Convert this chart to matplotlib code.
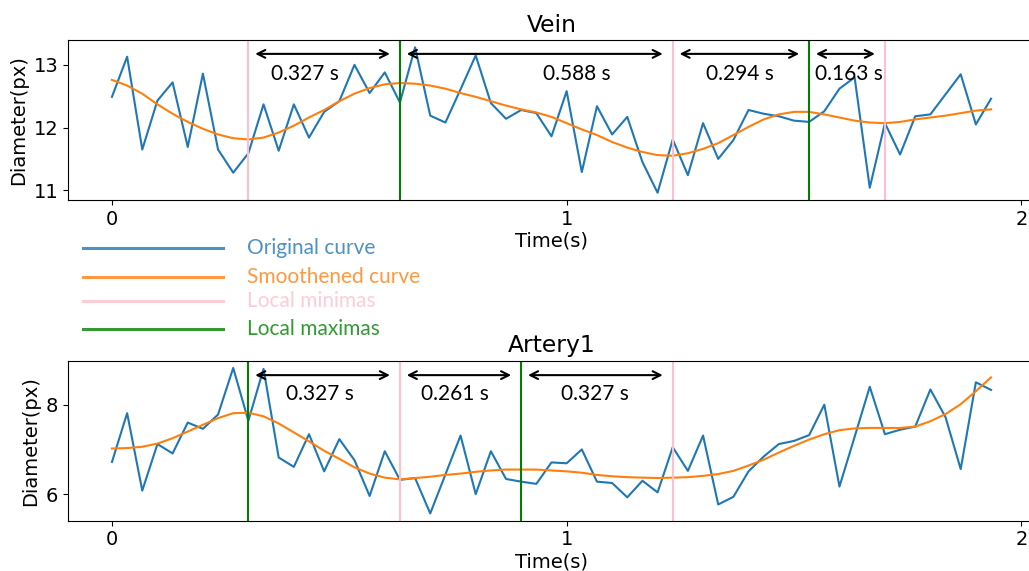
import numpy as np
import matplotlib
matplotlib.use("Agg")
import matplotlib.pyplot as plt
from matplotlib.lines import Line2D

plt.rcParams["font.size"] = 14

FPS = 30

# vein diameter, raw and smoothed (px), one value per frame
vein_raw = [12.49, 13.13, 11.65, 12.43, 12.72, 11.69, 12.86, 11.65, 11.28, 11.59,
            12.37, 11.63, 12.37, 11.84, 12.25, 12.42, 13.00, 12.55, 12.88, 12.40,
            13.28, 12.19, 12.08, 12.61, 13.15, 12.39, 12.14, 12.28, 12.23, 11.86,
            12.58, 11.29, 12.34, 11.89, 12.17, 11.45, 10.96, 11.81, 11.24, 12.07,
            11.50, 11.80, 12.28, 12.22, 12.18, 12.11, 12.09, 12.26, 12.62, 12.80,
            11.04, 12.07, 11.57, 12.18, 12.21, 12.53, 12.85, 12.05, 12.46]
vein_smooth = [12.76, 12.67, 12.54, 12.37, 12.22, 12.09, 11.98, 11.89, 11.83, 11.81,
               11.84, 11.92, 12.03, 12.16, 12.28, 12.42, 12.54, 12.63, 12.69, 12.71,
               12.70, 12.67, 12.62, 12.55, 12.49, 12.42, 12.35, 12.29, 12.24, 12.17,
               12.07, 11.97, 11.88, 11.77, 11.68, 11.61, 11.56, 11.55, 11.59, 11.66,
               11.75, 11.88, 12.01, 12.13, 12.21, 12.25, 12.25, 12.21, 12.16, 12.11,
               12.08, 12.07, 12.09, 12.13, 12.16, 12.19, 12.23, 12.27, 12.29]

# artery1 diameter, raw and smoothed (px)
artery_raw = [6.72, 7.81, 6.08, 7.12, 6.91, 7.60, 7.46, 7.78, 8.82, 7.64,
              8.80, 6.82, 6.61, 7.34, 6.51, 7.23, 6.76, 5.96, 6.96, 6.32,
              6.36, 5.57, 6.44, 7.31, 6.00, 6.96, 6.34, 6.28, 6.23, 6.71,
              6.69, 7.00, 6.28, 6.25, 5.93, 6.30, 6.04, 7.05, 6.52, 7.31,
              5.77, 5.94, 6.51, 6.84, 7.12, 7.19, 7.32, 8.00, 6.17, 7.28,
              8.40, 7.34, 7.44, 7.51, 8.34, 7.72, 6.56, 8.50, 8.33]
artery_smooth = [7.02, 7.03, 7.06, 7.13, 7.25, 7.40, 7.55, 7.70, 7.81, 7.82,
                 7.74, 7.58, 7.38, 7.18, 6.97, 6.79, 6.60, 6.46, 6.37, 6.33,
                 6.36, 6.39, 6.43, 6.46, 6.50, 6.53, 6.55, 6.55, 6.55, 6.53,
                 6.51, 6.48, 6.43, 6.40, 6.38, 6.37, 6.36, 6.37, 6.38, 6.41,
                 6.45, 6.52, 6.64, 6.77, 6.93, 7.08, 7.22, 7.34, 7.43, 7.47,
                 7.48, 7.48, 7.48, 7.51, 7.63, 7.79, 8.01, 8.30, 8.61]

# frame indices of the extrema
vein_minima = [9, 37, 51]
vein_maxima = [19, 46]
artery_minima = [19, 37]
artery_maxima = [9, 27]

# (from frame, to frame, label, label centre in s)
vein_periods = [(9, 19, "0.327 s", 0.425), (19, 37, "0.588 s", 1.023),
                (37, 46, "0.294 s", 1.381), (46, 51, "0.163 s", 1.62)]
artery_periods = [(9, 19, "0.327 s", 0.457), (19, 27, "0.261 s", 0.755),
                  (27, 37, "0.327 s", 1.062)]

t = np.arange(len(vein_raw)) / FPS

ANNOT_FONT = ["Lato", "DejaVu Sans"]


def draw_panel(ax, raw, smooth, minima, maxima, periods, title, arrow_y, text_y):
    ax.plot(t, raw, color="tab:blue")
    ax.plot(t, smooth, color="tab:orange")
    for i in minima:
        ax.axvline(t[i], color="pink", lw=1.5)
    for i in maxima:
        ax.axvline(t[i], color="green", lw=1.5)
    for a, b, label, tx in periods:
        ax.annotate("", xy=(t[b] - 0.022, arrow_y), xytext=(t[a] + 0.015, arrow_y),
                    arrowprops=dict(arrowstyle="<->", color="black", lw=1.5,
                                    shrinkA=0, shrinkB=0))
        ax.text(tx, text_y, label, ha="center", va="center", fontsize=15,
                family=ANNOT_FONT)
    ax.set_xticks([0, 1, 2])
    ax.set_title(title)
    ax.set_xlabel("Time(s)", labelpad=2)
    ax.set_ylabel("Diameter(px)")


fig = plt.figure(figsize=(10.29, 5.71), dpi=100)
ax1 = fig.add_axes([0.0661, 0.6497, 0.9397, 0.2802])
ax2 = fig.add_axes([0.0661, 0.0881, 0.9397, 0.2802])

draw_panel(ax1, vein_raw, vein_smooth, vein_minima, vein_maxima, vein_periods,
           "Vein", 13.175, 12.86)
draw_panel(ax2, artery_raw, artery_smooth, artery_minima, artery_maxima,
           artery_periods, "Artery1", 8.66, 8.24)
ax2.set_yticks([6, 8])

# legend drawn by hand between the panels
legend_items = [("Original curve", "tab:blue", 247.7),
                ("Smoothened curve", "tab:orange", 276.7),
                ("Local minimas", "pink", 301.0),
                ("Local maximas", "green", 329.3)]
for label, color, ypx in legend_items:
    y = 1 - ypx / 571
    fig.add_artist(Line2D([83 / 1029, 223 / 1029], [y, y], color=color, lw=2.2,
                          alpha=0.8, transform=fig.transFigure))
    fig.text(246.7 / 1029, y, label, color=color, alpha=0.8, va="center",
             fontsize=15, family=ANNOT_FONT)

fig.savefig("out.png", dpi=100)
